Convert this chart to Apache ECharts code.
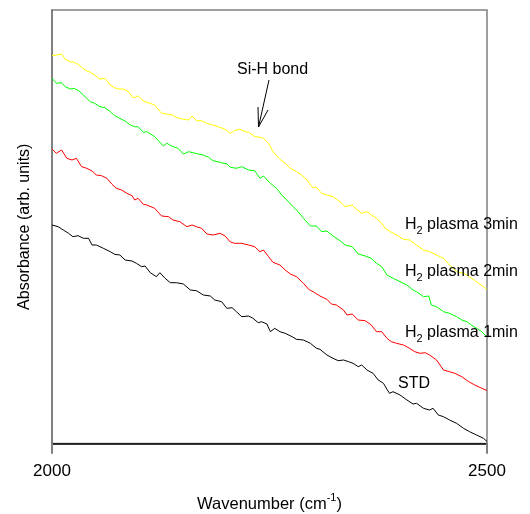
<!DOCTYPE html>
<html>
<head>
<meta charset="utf-8">
<script src="https://cdn.jsdelivr.net/npm/echarts@6/dist/echarts.min.js"></script>
<style>
  html, body { margin: 0; padding: 0; background: #fff; }
  #chart { width: 530px; height: 514px; }
</style>
</head>
<body>
<div id="chart"></div>
<script>
// wavenumber (cm-1) and absorbance (arb. units)
const stdWn = [2000,2007,2013,2019,2024,2030,2036,2042,2046,2051,2059,2067,2072,2078,2084,2092,2097,2103,2107,2113,2120,2124,2130,2136,2143,2151,2159,2166,2174,2182,2187,2195,2201,2207,2212,2218,2226,2231,2237,2241,2247,2251,2256,2262,2268,2276,2281,2289,2297,2304,2308,2316,2323,2329,2335,2341,2346,2352,2356,2362,2369,2375,2381,2385,2388,2392,2400,2408,2415,2419,2427,2434,2438,2444,2450,2457,2465,2473,2480,2488,2496,2500]
const stdAbs = [218.5,216.8,213.5,210.2,206.8,207.8,205.2,205.2,198.5,198.5,195.2,191.8,189.2,188.5,183.5,182.5,180.2,176.8,177.5,170.8,166.8,170.8,165.2,160.8,160.8,159.5,153.5,152.8,148.5,147.5,143.5,141.8,135.2,135.8,131.8,126.8,127.5,125.2,120.8,121.8,119.5,111.8,115.2,111.8,110.2,106.8,104.2,103.5,100.2,95.2,94.2,88.5,85.2,82.8,83.5,81.8,80.2,76.8,78.5,73.5,70.2,63.5,60.2,54.2,50.2,51.8,48.5,43.5,39.5,40.2,35.2,33.5,35.2,28.5,26.8,23.5,20.2,15.2,11.8,8.5,5.2,2]

const p1Wn = [2000,2005,2011,2017,2023,2028,2034,2040,2046,2051,2057,2063,2069,2074,2080,2086,2092,2095,2099,2105,2109,2118,2126,2134,2139,2147,2155,2161,2166,2172,2178,2185,2193,2199,2205,2210,2218,2226,2233,2239,2243,2249,2254,2262,2268,2274,2281,2289,2295,2302,2308,2316,2321,2327,2335,2339,2345,2352,2360,2367,2373,2379,2385,2390,2396,2404,2411,2417,2423,2429,2434,2442,2450,2457,2463,2471,2479,2486,2494,2500]
const p1Abs = [294.5,290.2,293.5,285.2,283.5,285.2,276.8,275.2,272.5,268.5,267.8,265.2,259.2,255.2,253.5,250.2,247.8,243.5,245.2,239.2,238.5,235.2,227.5,226.8,223.5,221.8,216.8,218.5,216.8,215.2,209.5,208.5,210.2,207.5,201.5,200.2,200.2,198.5,196.8,191.8,193.5,186.8,181.2,178.5,173.5,169.5,166.8,160.2,154.2,150.8,147.5,144.2,139.5,138.5,133.5,128.5,129.5,123.5,122.8,118.5,111.8,111.8,105.2,101.8,100.2,98.5,95.2,91.8,90.2,90.8,88.5,83.5,73.5,71.8,70.2,66.8,61.8,58.5,55.2,53]

const p2Wn = [2000,2005,2011,2015,2021,2026,2032,2038,2044,2049,2055,2061,2067,2072,2078,2084,2090,2095,2099,2105,2109,2118,2128,2132,2139,2145,2151,2157,2162,2168,2174,2180,2185,2195,2201,2205,2212,2218,2226,2233,2239,2243,2251,2258,2264,2270,2277,2283,2289,2297,2304,2310,2316,2323,2331,2337,2345,2352,2360,2367,2373,2379,2385,2392,2400,2408,2415,2419,2427,2433,2436,2442,2450,2457,2465,2471,2477,2482,2488,2494,2500]
const p2Abs = [365.2,360.2,360.8,356.8,354.5,355.2,351.8,346.8,341.8,340.2,336.8,335.8,331.8,327.8,325.2,322.5,318.5,316.8,316.8,311.2,311.8,306.8,297.5,300.2,296.8,295.2,289.5,291.8,290.8,289.5,288.5,286.2,282.8,280.8,279.5,276.2,275.2,276.8,273.5,272.8,265.2,267.5,260.2,255.2,248.5,243.5,236.8,231.8,225.2,217.5,217.5,211.8,212.5,207.5,202.8,198.5,196.8,189.5,187.5,185.2,180.2,176.8,168.5,165.2,161.8,158.5,153.5,151.8,146.8,147.5,138.5,136.8,131.8,130.2,126.8,123.5,121.8,118.5,115.2,111.8,106.5]

const p3Wn = [2000,2005,2011,2015,2021,2026,2032,2038,2044,2049,2055,2061,2067,2072,2076,2082,2088,2092,2095,2099,2105,2118,2126,2132,2138,2143,2151,2157,2161,2166,2172,2178,2185,2191,2199,2205,2210,2216,2222,2226,2233,2239,2243,2249,2254,2262,2268,2274,2281,2287,2293,2299,2304,2310,2316,2323,2331,2337,2345,2350,2356,2362,2367,2373,2379,2383,2389,2396,2404,2411,2419,2427,2434,2442,2450,2457,2465,2473,2480,2488,2496,2500]
const p3Abs = [387.8,388.5,389.5,384.5,381.8,381.2,377.8,373.5,371.2,368.5,364.5,365.2,358.5,355.8,354.5,354.5,351.8,346.8,345.8,347.8,342.5,338.5,330.2,329.5,328.5,326.2,324.2,323.5,327.5,322.8,322.8,320.2,318.5,316.8,314.2,310,313,314.2,311.8,311.2,307,306.2,305.2,300.2,291.8,284.2,280.2,275.2,271.8,268.5,263.5,256.2,256.2,250.2,248.5,246.8,241.8,236.8,238.5,234.2,230.2,231.8,228.5,225.2,220.2,215.2,211.8,208.5,204.2,203.5,198.5,193.5,191.8,188.5,185.2,178.5,171.8,170.2,166.8,161.8,156.8,154]

const xTicks = [2000, 2500]

const FONT = '"Liberation Sans", Arial, sans-serif'
const GRID = { left: 52, right: 43, top: 10, bottom: 70.5 }
const W = 530, H = 514
const pairs = (xs, ys) => xs.slice(0, Math.min(xs.length, ys.length)).map((x, i) => [x, ys[i]])

const mkSeries = (name, xs, ys, color) => ({
  name,
  type: 'line',
  data: pairs(xs, ys),
  showSymbol: false,
  symbol: 'none',
  lineStyle: { color, width: 1 },
  itemStyle: { color },
  z: 3
})

// plot label, rich text so the 2 sits low like a subscript
const plasmaLabel = (y, txt) => ({
  type: 'text',
  x: 405,
  y,
  z: 10,
  style: {
    text: '{h|H}{s|2}{h| plasma ' + txt + '}',
    verticalAlign: 'middle',
    rich: {
      h: { fontFamily: FONT, fontSize: 16, lineHeight: 20, fill: '#000', verticalAlign: 'bottom' },
      s: { fontFamily: FONT, fontSize: 11, lineHeight: 14, fill: '#000', verticalAlign: 'bottom', padding: [0, 0, -3, 0] }
    }
  }
})

// end ticks hanging below the frame, at the grid's left and right edges
const axisY = H - GRID.bottom
const tickMarks = [GRID.left, W - GRID.right].map(px => ({
  type: 'rect', z: 20,
  shape: { x: px - 1, y: axisY, width: 2, height: 10 },
  style: { fill: '#808080' }
}))

const chart = echarts.init(document.getElementById('chart'))

chart.setOption({
  animation: false,
  backgroundColor: '#fff',
  grid: {
    ...GRID,
    outerBoundsMode: 'none',
    show: true, borderColor: '#808080', borderWidth: 1.5, backgroundColor: 'transparent'
  },
  xAxis: {
    type: 'value',
    min: xTicks[0],
    max: xTicks[1],
    interval: xTicks[1] - xTicks[0],
    name: '{a|Wavenumber (cm}{s|-1}{a|)}',
    nameLocation: 'middle',
    nameGap: 49,
    nameTextStyle: {
      rich: {
        a: { fontFamily: FONT, fontSize: 16.5, color: '#000', lineHeight: 20, verticalAlign: 'bottom' },
        s: { fontFamily: FONT, fontSize: 11, color: '#000', lineHeight: 20, verticalAlign: 'top' }
      }
    },
    axisLine: { show: true, onZero: false, lineStyle: { color: '#000', width: 1.5 } },
    axisTick: { show: true, length: 10, lineStyle: { color: '#808080', width: 2 } },
    axisLabel: { margin: 19, fontFamily: FONT, fontSize: 17, color: '#000', formatter: v => String(v) },
    splitLine: { show: false }
  },
  yAxis: {
    type: 'value',
    min: 0,
    max: 433.5,
    name: 'Absorbance (arb. units)',
    nameLocation: 'middle',
    nameGap: 19,
    nameTextStyle: { fontFamily: FONT, fontSize: 16, color: '#000' },
    axisLine: { show: true, lineStyle: { color: '#808080', width: 2 } },
    axisTick: { show: false },
    axisLabel: { show: false },
    splitLine: { show: false }
  },
  series: [
    mkSeries('H2 plasma 3min', p3Wn, p3Abs, '#ffff00'),
    mkSeries('H2 plasma 2min', p2Wn, p2Abs, '#00ff00'),
    mkSeries('H2 plasma 1min', p1Wn, p1Abs, '#ff0000'),
    mkSeries('STD', stdWn, stdAbs, '#000000')
  ],
  graphic: [
    { type: 'text', x: 237, y: 70, z: 10, style: { text: 'Si-H bond', fontFamily: FONT, fontSize: 16, fill: '#000', verticalAlign: 'middle' } },
    { type: 'polyline', z: 10, shape: { points: [[269, 80], [258.5, 127]] }, style: { stroke: '#000', lineWidth: 1, fill: null } },
    { type: 'polyline', z: 10, shape: { points: [[258, 107], [258.5, 127], [268, 110]] }, style: { stroke: '#000', lineWidth: 1, fill: null } },
    plasmaLabel(223, '3min'),
    plasmaLabel(270, '2min'),
    plasmaLabel(331, '1min'),
    { type: 'text', x: 398, y: 384, z: 10, style: { text: 'STD', fontFamily: FONT, fontSize: 16, fill: '#000', verticalAlign: 'middle' } },
    ...tickMarks
  ]
})
</script>
</body>
</html>
